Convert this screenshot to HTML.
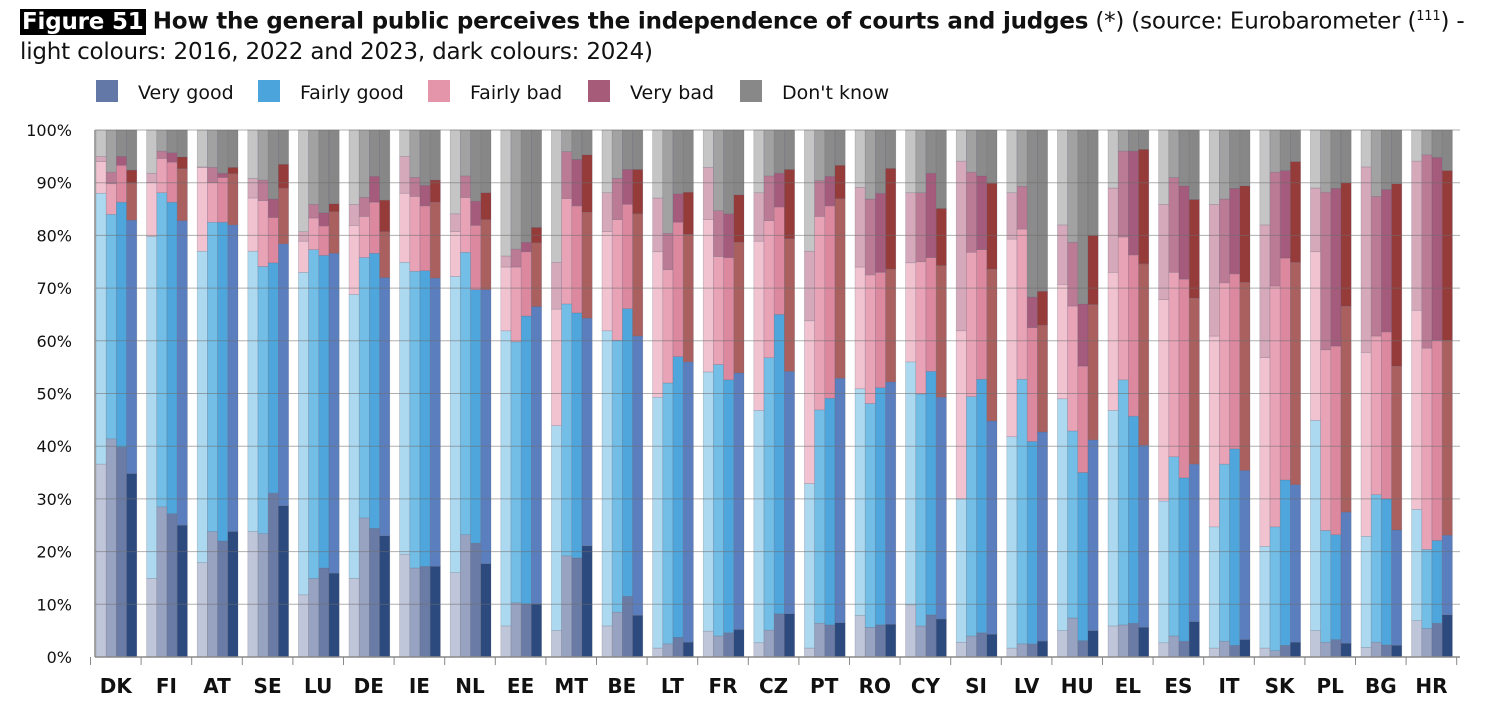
<!DOCTYPE html>
<html><head><meta charset="utf-8">
<style>
body{margin:0;background:#fff;width:1501px;height:701px;overflow:hidden;font-family:"DejaVu Sans","Liberation Sans",sans-serif;}
#title{position:absolute;left:20px;top:2px;font-size:23px;line-height:30px;color:#111;white-space:nowrap;letter-spacing:-0.2px}
#fig{background:#000;color:#fff;font-weight:bold;padding:0 2px}
svg{position:absolute;left:0;top:0}
</style></head>
<body>
<div id="title"><span id="fig">Figure 51</span> <b>How the general public perceives the independence of courts and judges</b> (*) (source: Eurobarometer (<sup style="font-size:13px">111</sup>) -<br>light colours: 2016, 2022 and 2023, dark colours: 2024)</div>
<svg id="chart" width="1501" height="701"></svg>
<script>
const countries=["DK","FI","AT","SE","LU","DE","IE","NL","EE","MT","BE","LT","FR","CZ","PT","RO","CY","SI","LV","HU","EL","ES","IT","SK","PL","BG","HR"];
const years=["2016","2022","2023","2024"];
const seriesNames=["Very good","Fairly good","Fairly bad","Very bad","Don't know"];
const veryGood=[[36.6,41.4,39.8,34.8],[14.9,28.5,27.2,25],[17.9,23.8,22,23.8],[23.8,23.4,31.1,28.7],[11.8,14.9,16.9,15.9],[14.9,26.4,24.4,23],[19.5,16.9,17.2,17.2],[16,23.2,21.6,17.7],[5.9,10.3,10.1,10.1],[5,19.2,18.8,21.1],[5.9,8.5,11.5,7.9],[1.7,2.5,3.7,2.8],[4.9,4,4.6,5.2],[2.7,5.1,8.2,8.2],[1.7,6.4,6.1,6.5],[7.9,5.6,6.1,6.2],[9.9,5.9,8,7.2],[2.8,4,4.6,4.3],[1.7,2.5,2.5,3],[5,7.4,3.1,5],[5.9,6.1,6.4,5.6],[2.7,4,3,6.7],[1.7,3,2.2,3.3],[1.7,1.2,2.2,2.8],[5,2.8,3.3,2.6],[1.8,2.8,2.3,2.2],[6.9,5.4,6.4,8]];
const fairlyGood=[[51.4,42.6,46.5,48.1],[64.9,59.6,59.1,57.8],[59.1,58.7,60.5,58.2],[53.2,50.7,43.7,49.7],[61.2,62.4,59.3,60.7],[53.9,49.4,52.2,49],[55.4,56.3,56.1,54.7],[56.2,53.6,48.1,52],[56,49.5,54.6,56.4],[38.9,47.8,46.5,43.2],[56,51.6,54.6,53],[47.6,49.5,53.3,53.2],[49.2,51.5,48,48.7],[44.1,51.7,56.8,46],[31.2,40.5,43,46.4],[43,42.5,45,46],[46.1,44,46.2,42.1],[27.2,45.4,48.1,40.5],[40.1,50.2,38.4,39.7],[44,35.5,31.9,36.2],[40.9,46.5,39.3,34.6],[26.9,34,31,29.9],[23,33.6,37.3,32.1],[19.3,23.5,31.4,29.9],[39.9,21.2,19.9,24.9],[21.1,28,27.7,21.9],[21.1,15,15.7,15.1]];
const fairlyBad=[[6,5.8,7,7],[10.2,6.5,7.6,9.9],[15.9,7.5,8.5,9.7],[10.1,12.5,8.6,10.6],[5.9,6,5.6,7.9],[13.1,7.8,9.7,8.7],[13.1,14.2,12.3,14.4],[8.5,10.4,12.2,13.3],[12.1,14.2,12.2,12.1],[22.1,20,20.3,20.1],[18.8,22.9,19.8,23.2],[27.6,21.5,25.5,24.2],[28.9,20.5,23.2,24.8],[32.1,26,20.4,25.2],[30.9,36.7,36.5,34.1],[23.1,24.4,21.9,21.4],[18.8,25.1,21.6,25],[31.9,27.4,24.6,28.8],[37.5,28.5,21.6,20.3],[21.7,23.7,20.2,25.7],[26.2,27.1,30.6,34.4],[38.2,35,37.7,31.5],[36.2,34.4,33.2,35.7],[35.8,45.7,42.1,42.2],[32,34.3,35.8,39.1],[34.9,30.1,31.7,31.1],[37.8,38.2,38,37]];
const veryBad=[[1,2.2,1.7,2.5],[1.8,1.4,1.8,2.2],[0.1,2.9,0.8,1.2],[3.7,3.9,3.5,4.5],[1.8,2.6,2.5,1.5],[4,3.6,4.9,6],[7,3.6,3.9,4.2],[3.4,4.1,4.6,5.1],[2.1,3.4,1.8,2.9],[8.9,8.9,8.8,10.9],[7.4,7.8,6.6,8.4],[10.2,6.9,5.4,8],[9.9,8.7,8.3,9],[9.2,8.5,6.4,13.1],[13.2,6.8,5.6,6.3],[15.1,14.4,15,19.1],[13.3,13.1,16,10.8],[32.2,15.2,14,16.3],[8.8,8.1,5.8,6.4],[11.3,12.1,11.8,13.1],[16,16.3,19.7,21.7],[18.1,18,17.7,18.7],[25,15.9,16.2,18.3],[25.2,21.6,16.6,19.1],[12.1,29.9,29.9,23.4],[35.2,26.5,27,34.6],[28.3,36.7,34.7,32.2]];
const yTicks=[0,10,20,30,40,50,60,70,80,90,100];

const colors=[
 ["#c0c6d9","#97a3c1","#6a7ca5","#2c4a7e"],
 ["#acd9f0","#72bee7","#4ea6dc","#5b7fbe"],
 ["#f1c3d1","#e8a3b6","#dc889f","#a9605f"],
 ["#d5a9b9","#bb7b95","#a55b7b","#953b3a"],
 ["#c5c5c5","#a2a2a2","#8b8b8b","#878787"]];
const legendColors=["#6478a7","#4ba4dc","#e495a9","#a65b79","#888888"];

const NS="http://www.w3.org/2000/svg";
const svg=document.getElementById('chart');
function mk(tag,attrs,parent){const e=document.createElementNS(NS,tag);for(const k in attrs)e.setAttribute(k,attrs[k]);(parent||svg).appendChild(e);return e;}
const X0=90.5,PITCH=50.6,Y0=657,Y100=130;
function yScale(v){return Y0-(Y0-Y100)*v/100;}
function groupX(i){return X0+i*PITCH;}
const BW=10.2;

const legX=[96,258,428,588,740];
seriesNames.forEach((n,i)=>{
 const r=mk('rect',{x:legX[i],y:80,width:22,height:22,fill:legendColors[i]});
 
 
 const t=mk('text',{x:legX[i]+42,y:99,'font-size':19,fill:'#111','font-family':'DejaVu Sans, sans-serif'});
 t.textContent=n;
 
 
});

const data=[veryGood,fairlyGood,fairlyBad,veryBad];
countries.forEach((c,i)=>{
 const g=mk('g',{});
 
 
 years.forEach((yr,j)=>{
  let cum=0;
  const x=groupX(i)+5.5+j*BW;
  for(let s=0;s<5;s++){
   const v = s<4 ? data[s][i][j] : Math.max(0,100-cum);
   const r=mk('rect',{x:x,y:yScale(cum+v),width:BW,height:yScale(cum)-yScale(cum+v),fill:colors[s][j],stroke:'rgba(90,90,110,0.35)','stroke-width':0.6},g);
   
   
   cum+=v;
  }
 });
});

yTicks.forEach(t=>{
 const l=mk('line',{x1:95,x2:1460,y1:yScale(t),y2:yScale(t),stroke:t===0?'#888':'rgba(110,110,110,0.55)','stroke-width':t===0?1.5:1});
 
 
 const tx=mk('text',{x:72,y:yScale(t)+6,'text-anchor':'end','font-size':16,fill:'#111','font-family':'DejaVu Sans, sans-serif'});
 tx.textContent=t+'%';
 
 
});
const ax=mk('line',{x1:95,x2:95,y1:Y100,y2:Y0,stroke:'#888','stroke-width':1.5});


for(let i=0;i<=countries.length;i++){
 const tk=mk('line',{x1:groupX(i),x2:groupX(i),y1:Y0,y2:Y0+8,stroke:'#888','stroke-width':1});
 
 
}
countries.forEach((c,i)=>{
 const t=mk('text',{x:groupX(i)+PITCH/2,y:693,'text-anchor':'middle','font-size':20,'font-weight':'bold',fill:'#111','font-family':'DejaVu Sans, sans-serif'});
 t.textContent=c;
 
 
});
</script>
</body></html>
